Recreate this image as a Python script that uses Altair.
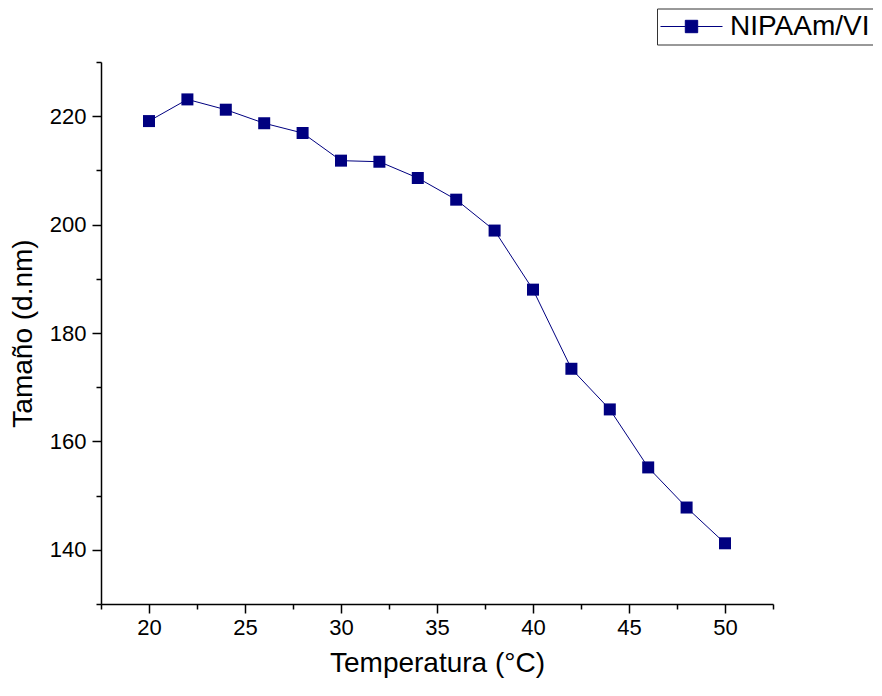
import altair as alt
import pandas as pd

temperatures = [20, 22, 24, 26, 28, 30, 32, 34, 36, 38, 40, 42, 44, 46, 48, 50]
sizes = [219.1, 223.1, 221.2, 218.7, 216.9, 211.8, 211.6, 208.6, 204.6, 198.9,
         188.0, 173.4, 165.9, 155.2, 147.8, 141.2]
series_name = "NIPAAm/VI"

x_ticks = [17.5, 20, 22.5, 25, 27.5, 30, 32.5, 35, 37.5, 40, 42.5, 45, 47.5, 50, 52.5]
y_ticks = [130, 140, 150, 160, 170, 180, 190, 200, 210, 220, 230]

df = pd.DataFrame({"T": temperatures, "S": sizes, "serie": [series_name] * len(temperatures)})

NAVY = "#000080"
FONT = "Liberation Sans"

legend_path = "M-1,0H-0.2M0.2,0H1M-0.2,-0.2H0.2V0.2H-0.2Z"

x_enc = alt.X(
    "T:Q",
    scale=alt.Scale(domain=[17.5, 52.5], nice=False, zero=False),
    axis=alt.Axis(
        title="Temperatura (°C)",
        values=x_ticks,
        labelExpr="datum.value % 5 === 0 ? datum.label : ''",
        tickSize={"condition": {"test": "datum.value % 5 === 0", "value": 9}, "value": 5},
        labelPadding=4,
        titlePadding=11,
        labelFlush=False,
        labelOverlap=False,
    ),
)
y_enc = alt.Y(
    "S:Q",
    scale=alt.Scale(domain=[130, 230], nice=False, zero=False),
    axis=alt.Axis(
        title="Tamaño (d.nm)",
        values=y_ticks,
        labelExpr="datum.value % 20 === 0 ? datum.label : ''",
        tickSize={"condition": {"test": "datum.value % 20 === 0", "value": 9}, "value": 5},
        labelPadding=6,
        titlePadding=12,
        labelFlush=False,
        labelOverlap=False,
    ),
)
color_enc = alt.Color(
    "serie:N",
    scale=alt.Scale(domain=[series_name], range=[NAVY]),
    legend=alt.Legend(
        title=None,
        orient="none",
        legendX=556,
        legendY=-53.5,
        symbolType=legend_path,
        symbolSize=3844,
        symbolFillColor=NAVY,
        symbolStrokeColor=NAVY,
        symbolStrokeWidth=1,
        labelFont=FONT,
        labelFontSize=28,
        labelColor="black",
        labelOffset=7,
        strokeColor="#333333",
        padding=3,
        clipHeight=30,
    ),
)

line = alt.Chart(df).mark_line(color=NAVY, strokeWidth=1).encode(x=x_enc, y=y_enc)
points = alt.Chart(df).mark_point(shape="square", filled=True, size=144, opacity=1, color=NAVY).encode(
    x=x_enc, y=y_enc, color=color_enc
)

chart = (
    alt.layer(line, points)
    .properties(
        width=672,
        height=542,
        autosize=alt.AutoSizeParams(type="none"),
        padding={"left": 93, "top": 54, "right": 100, "bottom": 83},
        background="white",
    )
    .configure_view(stroke=None)
    .configure_axis(
        grid=False,
        domainColor="black",
        domainWidth=1.5,
        tickColor="black",
        tickWidth=1.5,
        labelFont=FONT,
        labelFontSize=22,
        labelColor="black",
        titleFont=FONT,
        titleFontSize=28,
        titleFontWeight="normal",
        titleColor="black",
    )
)

chart.save("out.html", embed_options={"renderer": "svg", "actions": False})
